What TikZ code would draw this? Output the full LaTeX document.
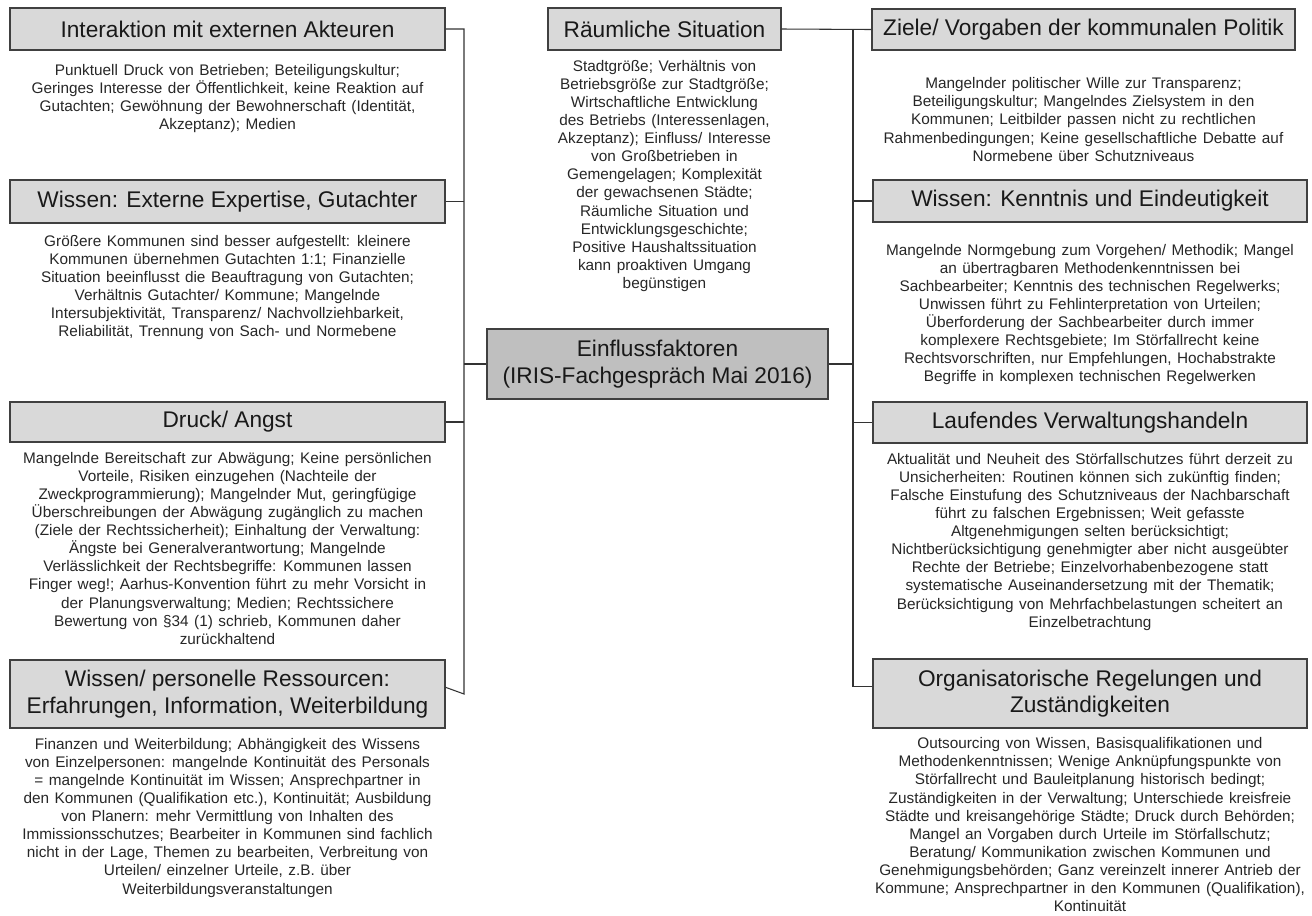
\documentclass[tikz,border=0pt]{standalone}
\usepackage{fontspec}
\setmainfont{Liberation Sans}
\usetikzlibrary{positioning}
\newcommand\weitspace{\spaceskip=0.36em plus 0.1em\relax}

\begin{document}
\begin{tikzpicture}[x=0.75pt, y=-0.75pt,
  kopf/.style={draw=black!75, line width=1pt, fill=black!15, text=black!90, align=center, inner sep=0pt, font=\fontsize{17}{20}\selectfont},
  zentrum/.style={kopf, fill=black!25},
  inhalt/.style={align=center, inner sep=0pt, text=black!85, font=\fontsize{11.5}{13.6}\selectfont\weitspace},
  verb/.style={draw=black!80, line width=0.8pt}]
  \useasboundingbox (0,0) rectangle (1312,915);
  % Mitte
  \node[zentrum, minimum width=255.75pt, minimum height=52.5pt] (zentral) at (657.5,364) {Einflussfaktoren\\(IRIS-Fachgespräch Mai 2016)};
  \node[kopf, minimum width=174.75pt, minimum height=31.5pt] (raum) at (664.5,29) {Räumliche Situation};
  \node[inhalt, below=6.75pt of raum] (raumtxt) {Stadtgröße; Verhältnis von\\Betriebsgröße zur Stadtgröße;\\Wirtschaftliche Entwicklung\\des Betriebs (Interessenlagen,\\Akzeptanz); Einfluss/ Interesse\\von Großbetrieben in\\Gemengelagen; Komplexität\\der gewachsenen Städte;\\Räumliche Situation und\\Entwicklungsgeschichte;\\Positive Haushaltssituation\\kann proaktiven Umgang\\begünstigen};
  % linke Seite
  \node[kopf, minimum width=326.25pt, minimum height=31.5pt] (inter) at (227.5,29) {Interaktion mit externen Akteuren};
  \node[inhalt, below=9.75pt of inter] (intertxt) {Punktuell Druck von Betrieben; Beteiligungskultur;\\Geringes Interesse der Öffentlichkeit, keine Reaktion auf\\Gutachten; Gewöhnung der Bewohnerschaft (Identität,\\Akzeptanz); Medien};
  \node[kopf, minimum width=326.25pt, minimum height=32.25pt] (wext) at (227.5,201.5) {Wissen: Externe Expertise, Gutachter};
  \node[inhalt, below=8.25pt of wext] (wexttxt) {Größere Kommunen sind besser aufgestellt: kleinere\\Kommunen übernehmen Gutachten 1:1; Finanzielle\\Situation beeinflusst die Beauftragung von Gutachten;\\Verhältnis Gutachter/ Kommune; Mangelnde\\Intersubjektivität, Transparenz/ Nachvollziehbarkeit,\\Reliabilität, Trennung von Sach- und Normebene};
  \node[kopf, minimum width=326.25pt, minimum height=30pt] (druck) at (227.5,422) {Druck/ Angst};
  \node[inhalt, below=6.75pt of druck] (drucktxt) {Mangelnde Bereitschaft zur Abwägung; Keine persönlichen\\Vorteile, Risiken einzugehen (Nachteile der\\Zweckprogrammierung); Mangelnder Mut, geringfügige\\Überschreibungen der Abwägung zugänglich zu machen\\(Ziele der Rechtssicherheit); Einhaltung der Verwaltung:\\Ängste bei Generalverantwortung; Mangelnde\\Verlässlichkeit der Rechtsbegriffe: Kommunen lassen\\Finger weg!; Aarhus-Konvention führt zu mehr Vorsicht in\\der Planungsverwaltung; Medien; Rechtssichere\\Bewertung von §34 (1) schrieb, Kommunen daher\\zurückhaltend};
  \node[kopf, minimum width=326.25pt, minimum height=51pt] (wpers) at (227.5,694) {Wissen/ personelle Ressourcen:\\Erfahrungen, Information, Weiterbildung};
  \node[inhalt, below=6.75pt of wpers] (wperstxt) {Finanzen und Weiterbildung; Abhängigkeit des Wissens\\von Einzelpersonen: mangelnde Kontinuität des Personals\\= mangelnde Kontinuität im Wissen; Ansprechpartner in\\den Kommunen (Qualifikation etc.), Kontinuität; Ausbildung\\von Planern: mehr Vermittlung von Inhalten des\\Immissionsschutzes; Bearbeiter in Kommunen sind fachlich\\nicht in der Lage, Themen zu bearbeiten, Verbreitung von\\Urteilen/ einzelner Urteile, z.B. über\\Weiterbildungsveranstaltungen};
  % rechte Seite
  \node[kopf, minimum width=317.25pt, minimum height=30.75pt] (ziele) at (1083.5,29.5) {Ziele/ Vorgaben der kommunalen Politik};
  \node[inhalt, below=20pt of ziele] (zieletxt) {Mangelnder politischer Wille zur Transparenz;\\Beteiligungskultur; Mangelndes Zielsystem in den\\Kommunen; Leitbilder passen nicht zu rechtlichen\\Rahmenbedingungen; Keine gesellschaftliche Debatte auf\\Normebene über Schutzniveaus};
  \node[kopf, minimum width=325.5pt, minimum height=31.5pt] (wkenn) at (1090,201) {Wissen: Kenntnis und Eindeutigkeit};
  \node[inhalt, below=15.75pt of wkenn] (wkenntxt) {Mangelnde Normgebung zum Vorgehen/ Methodik; Mangel\\an übertragbaren Methodenkenntnissen bei\\Sachbearbeiter; Kenntnis des technischen Regelwerks;\\Unwissen führt zu Fehlinterpretation von Urteilen;\\Überforderung der Sachbearbeiter durch immer\\komplexere Rechtsgebiete; Im Störfallrecht keine\\Rechtsvorschriften, nur Empfehlungen, Hochabstrakte\\Begriffe in komplexen technischen Regelwerken};
  \node[kopf, minimum width=325.5pt, minimum height=30.75pt] (lauf) at (1090,422.5) {Laufendes Verwaltungshandeln};
  \node[inhalt, below=6.75pt of lauf] (lauftxt) {Aktualität und Neuheit des Störfallschutzes führt derzeit zu\\Unsicherheiten: Routinen können sich zukünftig finden;\\Falsche Einstufung des Schutzniveaus der Nachbarschaft\\führt zu falschen Ergebnissen; Weit gefasste\\Altgenehmigungen selten berücksichtigt;\\Nichtberücksichtigung genehmigter aber nicht ausgeübter\\Rechte der Betriebe; Einzelvorhabenbezogene statt\\systematische Auseinandersetzung mit der Thematik;\\Berücksichtigung von Mehrfachbelastungen scheitert an\\Einzelbetrachtung};
  \node[kopf, minimum width=325.5pt, minimum height=51.75pt] (org) at (1090,693.5) {Organisatorische Regelungen und\\Zuständigkeiten};
  \node[inhalt, below=6.5pt of org] (orgtxt) {Outsourcing von Wissen, Basisqualifikationen und\\Methodenkenntnissen; Wenige Anknüpfungspunkte von\\Störfallrecht und Bauleitplanung historisch bedingt;\\Zuständigkeiten in der Verwaltung; Unterschiede kreisfreie\\Städte und kreisangehörige Städte; Druck durch Behörden;\\Mangel an Vorgaben durch Urteile im Störfallschutz;\\Beratung/ Kommunikation zwischen Kommunen und\\Genehmigungsbehörden; Ganz vereinzelt innerer Antrieb der\\Kommune; Ansprechpartner in den Kommunen (Qualifikation),\\Kontinuität};
  % Verbindungen
  \coordinate (lbus) at (464,0);
  \coordinate (rbus) at (853,0);
  \draw[verb] (inter.east) -| (lbus |- wpers.east) -- ([yshift=5pt]wpers.east);
  \draw[verb] (wext.east) -- (wext.east -| lbus);
  \draw[verb] (druck.east) -- (druck.east -| lbus);
  \draw[verb] (zentral.west) -- (zentral.west -| lbus);
  \draw[verb] (raum.east) -- (ziele.west);
  \draw[verb] (rbus |- ziele.west) -- ([yshift=5pt]rbus |- org.west) -- ([yshift=5pt]org.west);
  \draw[verb] (wkenn.west) -- (wkenn.west -| rbus);
  \draw[verb] (lauf.west) -- (lauf.west -| rbus);
  \draw[verb] (zentral.east) -- (zentral.east -| rbus);
\end{tikzpicture}
\end{document}
